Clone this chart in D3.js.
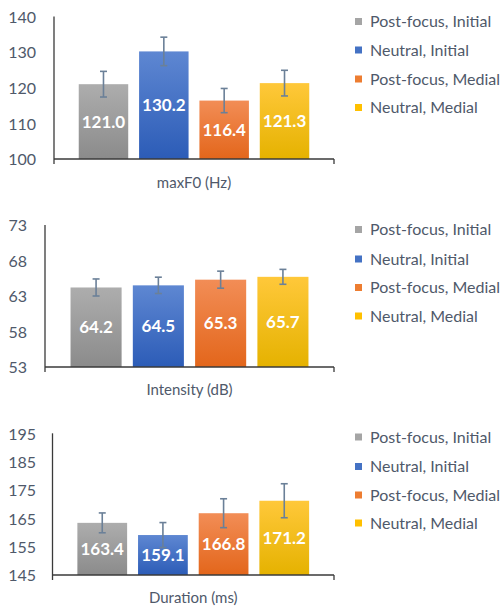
<!DOCTYPE html>
<html><head><meta charset="utf-8">
<script src="https://cdn.jsdelivr.net/npm/d3@7/dist/d3.min.js"></script>
<style>body{margin:0;background:#fff}svg{display:block}</style>
</head><body>
<svg id="c" width="501" height="606"></svg>
<script>
const series = ["Post-focus, Initial", "Neutral, Initial", "Post-focus, Medial", "Neutral, Medial"];
const maxF0 = [121.0, 130.2, 116.4, 121.3];
const maxF0Err = [3.6, 4.0, 3.4, 3.6];
const maxF0Ticks = [100, 110, 120, 130, 140];
const intensity = [64.2, 64.5, 65.3, 65.7];
const intensityErr = [1.2, 1.15, 1.2, 1.05];
const intensityTicks = [53, 58, 63, 68, 73];
const duration = [163.4, 159.1, 166.8, 171.2];
const durationErr = [3.5, 4.4, 5.1, 6.0];
const durationTicks = [145, 155, 165, 175, 185, 195];
const titles = ["maxF0 (Hz)", "Intensity (dB)", "Duration (ms)"];

const flat = ["#a5a5a5", "#4472c4", "#ed7d31", "#ffc000"];
const gradTop = ["#adadad", "#5e87d2", "#f28d56", "#ffc83a"];
const gradBot = ["#8b8b8b", "#2c5cb7", "#e3661b", "#e5b200"];
const textCol = "#4f596a";
const font = "Lato, 'Open Sans', sans-serif";

const svg = d3.select("#c");
const defs = svg.append("defs");
flat.forEach((c, i) => {
  const g = defs.append("linearGradient").attr("id", "g" + i).attr("x1", 0).attr("y1", 0).attr("x2", 0).attr("y2", 1);
  g.append("stop").attr("offset", "0%").attr("stop-color", gradTop[i]);
  g.append("stop").attr("offset", "100%").attr("stop-color", gradBot[i]);
});

const panels = [
  {vals: maxF0, errs: maxF0Err, ticks: maxF0Ticks, title: titles[0], x0: 54, x1: 334, yTop: 16.5, yBot: 159, titleY: 183, tickX: 36, legY: [21.5, 50, 79, 107.5], fmt: d3.format(".1f")},
  {vals: intensity, errs: intensityErr, ticks: intensityTicks, title: titles[1], x0: 45, x1: 334, yTop: 225, yBot: 367, titleY: 390, tickX: 27, legY: [229.5, 259, 287.5, 316], fmt: d3.format(".1f")},
  {vals: duration, errs: durationErr, ticks: durationTicks, title: titles[2], x0: 52.5, x1: 334, yTop: 433.3, yBot: 575, titleY: 598, tickX: 36, legY: [437, 466.5, 495, 523], fmt: d3.format(".1f")}
];

panels.forEach(p => {
  const g = svg.append("g");
  const y = d3.scaleLinear().domain(d3.extent(p.ticks)).range([p.yBot, p.yTop]);
  const x = d3.scaleBand().domain(series).range([p.x0, p.x1]).paddingInner(0.18).paddingOuter(0.41);

  const ya = d3.axisLeft(y).tickValues(p.ticks).tickSize(0).tickPadding(0);
  const yg = g.append("g").attr("transform", `translate(${p.tickX},0)`).call(ya);
  yg.select(".domain").remove();
  yg.selectAll("text").attr("fill", textCol).style("font-family", font).style("font-size", "16px").attr("dy", "0.36em");

  g.selectAll("rect.bar").data(p.vals).join("rect").attr("class", "bar")
    .attr("x", (d, i) => x(series[i])).attr("width", x.bandwidth())
    .attr("y", d => y(d)).attr("height", d => p.yBot - y(d))
    .attr("fill", (d, i) => `url(#g${i})`);

  g.append("line").attr("x1", p.x0).attr("x2", p.x0).attr("y1", p.yTop).attr("y2", p.yBot + 5).attr("stroke", "#3a3a3a").attr("stroke-width", 1.3);
  g.append("line").attr("x1", p.x0).attr("x2", p.x1).attr("y1", p.yBot).attr("y2", p.yBot).attr("stroke", "#3a3a3a").attr("stroke-width", 1.3);
  g.append("line").attr("x1", p.x1).attr("x2", p.x1).attr("y1", p.yBot).attr("y2", p.yBot + 5).attr("stroke", "#3a3a3a").attr("stroke-width", 1.3);

  const eg = g.selectAll("g.err").data(p.vals).join("g").attr("class", "err")
    .attr("stroke", "#6b8098").attr("stroke-width", 1.6);
  eg.append("line").attr("x1", (d, i) => x(series[i]) + x.bandwidth() / 2).attr("x2", (d, i) => x(series[i]) + x.bandwidth() / 2)
    .attr("y1", (d, i) => y(d + p.errs[i])).attr("y2", (d, i) => y(d - p.errs[i]));
  [1, -1].forEach(s => {
    eg.append("line").attr("x1", (d, i) => x(series[i]) + x.bandwidth() / 2 - 3.5).attr("x2", (d, i) => x(series[i]) + x.bandwidth() / 2 + 3.5)
      .attr("y1", (d, i) => y(d + s * p.errs[i])).attr("y2", (d, i) => y(d + s * p.errs[i]));
  });

  g.selectAll("text.lab").data(p.vals).join("text").attr("class", "lab")
    .attr("x", (d, i) => x(series[i]) + x.bandwidth() / 2)
    .attr("y", d => (y(d) + p.yBot) / 2).attr("dy", "0.36em")
    .attr("text-anchor", "middle").attr("fill", "#fff")
    .style("font-family", font).style("font-weight", "bold").style("font-size", "17px")
    .text(d => p.fmt(d));

  g.append("text").attr("x", (p.x0 + p.x1) / 2).attr("y", p.titleY).attr("dy", "0.36em")
    .attr("text-anchor", "middle").attr("fill", textCol)
    .style("font-family", font).style("font-size", "15px").text(p.title);

  const lg = g.selectAll("g.leg").data(series).join("g").attr("class", "leg")
    .attr("transform", (d, i) => `translate(355,${p.legY[i]})`);
  lg.append("rect").attr("x", 0).attr("y", -3.5).attr("width", 7).attr("height", 7).attr("fill", (d, i) => flat[i]);
  lg.append("text").attr("x", 15).attr("dy", "0.36em").attr("fill", textCol)
    .style("font-family", font).style("font-size", "16px").text(d => d);
});
</script>
</body></html>
